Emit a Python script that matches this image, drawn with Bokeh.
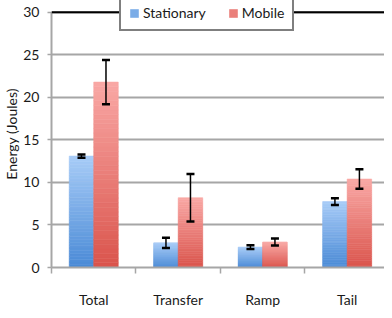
import numpy as np
from bokeh.plotting import figure
from bokeh.models import (Range1d, FixedTicker, Whisker, ColumnDataSource, Legend,
                          LegendItem, Span, TeeHead)
from bokeh.embed import file_html
from bokeh.resources import INLINE

# ---- data ----
categories = ["Total", "Transfer", "Ramp", "Tail"]
series_names = ["Stationary", "Mobile"]
stationary = [13.1, 2.9, 2.4, 7.75]
stationary_err = [0.2, 0.6, 0.22, 0.4]
mobile = [21.8, 8.2, 3.0, 10.4]
mobile_err = [2.6, 2.8, 0.42, 1.15]
y_ticks = [0, 5, 10, 15, 20, 25, 30]

# ---- style / layout ----
FONT = "Lato"
BAR_W = 0.29
N_STRIPS = 40
blue_bottom, blue_top = (74, 138, 214), (168, 204, 247)
red_bottom, red_top = (218, 84, 76), (249, 168, 165)
GRID = "#a6a6a6"
FIG_W, FIG_H = 384, 310
LEFT, BOTTOM = 45, 40
FRAME_W, FRAME_H = FIG_W - LEFT, FIG_H - BOTTOM
PX_PER_CAT = 86.0
PX_PER_UNIT = 8.6

def hexcol(c):
    return "#%02x%02x%02x" % tuple(int(round(v)) for v in c)

def gradient_source(values, xs, c_bot, c_top):
    x, b, t, col = [], [], [], []
    for xv, v in zip(xs, values):
        edges = np.linspace(0, v, N_STRIPS + 1)
        for k in range(N_STRIPS):
            f = (k + 0.5) / N_STRIPS
            c = [c_bot[j] + (c_top[j] - c_bot[j]) * f for j in range(3)]
            x.append(xv)
            b.append(edges[k])
            t.append(edges[k + 1])
            col.append(hexcol(c))
    return ColumnDataSource(dict(x=x, bottom=b, top=t, color=col))

centers = np.arange(len(categories))
x_stat = centers - BAR_W / 2
x_mob = centers + BAR_W / 2

p = figure(width=FIG_W, height=FIG_H,
           x_range=Range1d(-0.5, -0.5 + FRAME_W / PX_PER_CAT),
           y_range=Range1d(y_ticks[0], FRAME_H / PX_PER_UNIT),
           output_backend="svg", toolbar_location=None,
           min_border_left=LEFT, min_border_right=0, min_border_top=0, min_border_bottom=BOTTOM)
p.outline_line_color = None
p.background_fill_color = "white"
p.border_fill_color = "white"

src_s = gradient_source(stationary, x_stat, blue_bottom, blue_top)
src_m = gradient_source(mobile, x_mob, red_bottom, red_top)
r_s = p.vbar(x="x", bottom="bottom", top="top", width=BAR_W, source=src_s,
             fill_color="color", line_color="color", line_width=0.6)
r_m = p.vbar(x="x", bottom="bottom", top="top", width=BAR_W, source=src_m,
             fill_color="color", line_color="color", line_width=0.6)

# error bars
for xs, vals, errs in ((x_stat, stationary, stationary_err), (x_mob, mobile, mobile_err)):
    es = ColumnDataSource(dict(x=list(xs),
                               upper=[v + e for v, e in zip(vals, errs)],
                               lower=[v - e for v, e in zip(vals, errs)]))
    w = Whisker(base="x", upper="upper", lower="lower", source=es, dimension="height",
                line_color="black", line_width=1.5, level="overlay",
                upper_head=TeeHead(size=8, line_width=2.5, line_color="black"),
                lower_head=TeeHead(size=8, line_width=2.5, line_color="black"))
    p.add_layout(w)

# top border line of the plot area
p.add_layout(Span(location=y_ticks[-1], dimension="width", line_color="black", line_width=2))

# grid
p.xgrid.visible = False
p.ygrid.grid_line_color = GRID
p.ygrid.grid_line_width = 2

# x axis: category labels at centres, tick marks at boundaries
xa = p.xaxis[0]
xa.ticker = FixedTicker(ticks=list(centers), minor_ticks=list(np.arange(len(categories) + 1) - 0.5))
xa.major_label_overrides = {int(i): c for i, c in zip(centers, categories)}
xa.major_tick_line_color = None
xa.major_tick_out = 0
xa.major_tick_in = 0
xa.minor_tick_line_color = GRID
xa.minor_tick_line_width = 1.5
xa.minor_tick_out = 6
xa.minor_tick_in = 0
xa.axis_line_color = GRID
xa.axis_line_width = 2
xa.major_label_standoff = 17
xa.major_label_text_font = FONT
xa.major_label_text_font_size = "14px"
xa.major_label_text_color = "#1a1a1a"

# y axis
ya = p.yaxis[0]
ya.ticker = FixedTicker(ticks=y_ticks)
ya.bounds = (y_ticks[0], y_ticks[-1])
ya.minor_tick_line_color = None
ya.major_tick_line_color = GRID
ya.major_tick_line_width = 1.5
ya.major_tick_out = 4
ya.major_tick_in = 0
ya.axis_line_color = GRID
ya.axis_line_width = 2
ya.major_label_standoff = 8
ya.major_label_text_font = FONT
ya.major_label_text_font_size = "14px"
ya.major_label_text_color = "#1a1a1a"
ya.axis_label = "Energy (Joules)"
ya.axis_label_text_font = FONT
ya.axis_label_text_font_size = "14px"
ya.axis_label_text_font_style = "normal"
ya.axis_label_text_color = "#1a1a1a"
ya.axis_label_standoff = 0

legend = Legend(items=[LegendItem(label=series_names[0], renderers=[r_s], index=N_STRIPS // 2),
                       LegendItem(label=series_names[1], renderers=[r_m], index=N_STRIPS // 2)],
                orientation="horizontal", location=(68, 236),
                border_line_color="black", border_line_width=2,
                background_fill_color="white", background_fill_alpha=1,
                padding=8, spacing=22, margin=0, label_standoff=4,
                glyph_width=10, glyph_height=10, label_height=17,
                label_text_font=FONT, label_text_font_size="14px",
                label_text_color="#1a1a1a")
p.add_layout(legend, "center")

open("out.html", "w").write(file_html(p, INLINE))
